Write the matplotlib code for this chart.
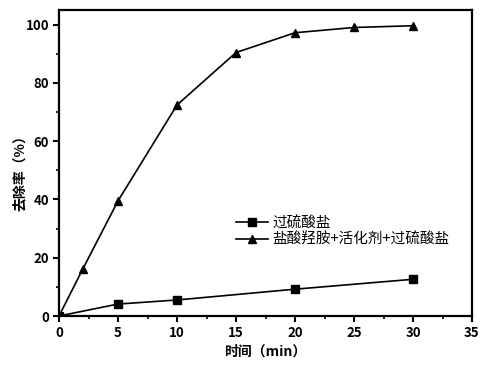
import matplotlib
matplotlib.use('Agg')
import matplotlib.pyplot as plt
from matplotlib.ticker import MultipleLocator

plt.rcParams['font.family'] = ['Noto Sans CJK SC', 'DejaVu Sans']

# data
t_persulfate = [0, 5, 10, 20, 30]
r_persulfate = [0, 4.1, 5.5, 9.2, 12.6]
t_combined = [0, 2, 5, 10, 15, 20, 25, 30]
r_combined = [0, 16, 39.5, 72.4, 90.4, 97.2, 99.0, 99.6]
labels = ['过硫酸盐', '盐酸羟胺+活化剂+过硫酸盐']

fig = plt.figure(figsize=(4.86, 3.67), dpi=100)
ax = fig.add_axes([59 / 486, 1 - 316 / 367, (472 - 59) / 486, (316 - 10) / 367])

ax.plot(t_persulfate, r_persulfate, color='black', marker='s', markersize=5.5,
        linewidth=1.2, label=labels[0])
ax.plot(t_combined, r_combined, color='black', marker='^', markersize=6,
        linewidth=1.2, label=labels[1])

ax.set_xlim(0, 35)
ax.set_ylim(0, 105)
ax.xaxis.set_major_locator(MultipleLocator(5))
ax.xaxis.set_minor_locator(MultipleLocator(2.5))
ax.yaxis.set_major_locator(MultipleLocator(20))
ax.yaxis.set_minor_locator(MultipleLocator(10))
ax.tick_params(which='major', direction='out', length=4, width=1.5, labelsize=9.5, pad=3)
ax.tick_params(which='minor', direction='out', length=2.5, width=1.2)
for lbl in ax.get_xticklabels() + ax.get_yticklabels():
    lbl.set_fontweight('bold')
for sp in ax.spines.values():
    sp.set_linewidth(1.6)

# axis titles placed where the reference has them
fig.text(265 / 486, 1 - 352 / 367, '时间（min）', fontsize=10, fontweight='bold',
         ha='center', va='center')
fig.text(20 / 486, 1 - 170 / 367, '去除率（%）', fontsize=10, fontweight='bold',
         ha='center', va='center', rotation=90)

ax.legend(loc='upper left', bbox_to_anchor=(0.415, 0.345), frameon=False,
          fontsize=10.5, handlelength=2.2, handletextpad=0.3, labelspacing=0.15,
          borderaxespad=0)

fig.savefig('out.png', dpi=100)
